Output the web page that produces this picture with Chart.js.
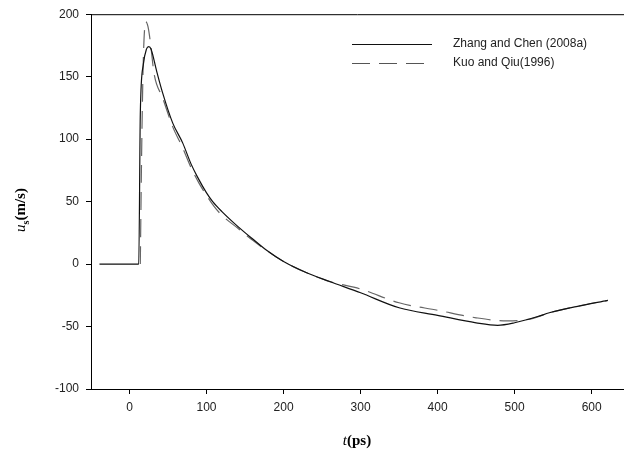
<!DOCTYPE html>
<html>
<head>
<meta charset="utf-8">
<script src="https://cdn.jsdelivr.net/npm/chart.js@4.4.1/dist/chart.umd.min.js"></script>
<style>
  html, body { margin: 0; padding: 0; background: #fff; }
  #wrap { width: 624px; height: 457px; }
</style>
</head>
<body>
<div id="wrap"><canvas id="chart" width="624" height="457"></canvas></div>
<script>
// Zhang and Chen (2008a), solid line
const zhangT = [-39, 10, 12, 14, 18, 22, 25, 28, 35, 43, 56, 69, 80, 88, 100, 108, 120, 139, 160, 178, 200, 230, 260, 300, 350, 400, 450, 478, 500, 530, 545, 580, 621];
const zhangU = [0, 0, 0, 120, 160, 172, 174, 172, 155, 137, 113, 97, 80, 70, 57, 50, 42, 31, 20, 11, 2, -7, -14, -23, -35, -41, -47, -49, -47, -42, -39, -34, -29];

// Kuo and Qiu (1996), dashed line
const kuoT = [14, 16, 18, 21, 24, 27, 32, 43, 56, 69, 80, 90, 100, 110, 120, 140, 160, 180, 200, 230, 260, 300, 350, 400, 450, 490, 520, 545, 580, 621];
const kuoU = [0, 100, 165, 194, 190, 178, 152, 133, 110, 93, 77, 65, 55, 46, 39, 29, 19, 10, 2, -7, -14, -20, -31, -37, -43, -45.5, -44, -39, -34, -29];

const xTicks = [0, 100, 200, 300, 400, 500, 600];
const yTicks = [-100, -50, 0, 50, 100, 150, 200];

const seriesNames = ['Zhang and Chen (2008a)', 'Kuo and Qiu(1996)'];

function toPoints(ts, us) {
  return ts.map((t, i) => ({ x: t, y: us[i] }));
}

const tickFont = { family: 'Arial, "Liberation Sans", sans-serif', size: 12 };

// frame on top, legend and the axis titles with italics / subscript
const extras = {
  id: 'extras',
  afterDraw(chart) {
    const ctx = chart.ctx;
    const area = chart.chartArea;
    ctx.save();
    ctx.strokeStyle = '#000';
    ctx.lineWidth = 1;
    ctx.beginPath();
    ctx.moveTo(area.left, area.top + 0.5);
    ctx.lineTo(area.right, area.top + 0.5);
    ctx.stroke();

    // legend
    const rows = [
      { y: 44, dash: [], color: '#111' },
      { y: 63, dash: [18, 9], color: '#555' }
    ];
    rows.forEach((r, i) => {
      ctx.setLineDash(r.dash);
      ctx.strokeStyle = r.color;
      ctx.beginPath();
      ctx.moveTo(352, r.y + 0.5);
      ctx.lineTo(432, r.y + 0.5);
      ctx.stroke();
      ctx.setLineDash([]);
      ctx.fillStyle = '#222';
      ctx.font = '12px Arial, "Liberation Sans", sans-serif';
      ctx.textBaseline = 'middle';
      ctx.textAlign = 'left';
      ctx.fillText(seriesNames[i], 453, r.y);
    });

    // x title: t(ps)
    ctx.fillStyle = '#000';
    ctx.textBaseline = 'alphabetic';
    const xt1 = 't', xt2 = '(ps)';
    ctx.font = 'italic 15px "Liberation Serif", "Times New Roman", serif';
    const w1 = ctx.measureText(xt1).width;
    ctx.font = 'bold 15px "Liberation Serif", "Times New Roman", serif';
    const w2 = ctx.measureText(xt2).width;
    let sx = 357 - (w1 + w2) / 2;
    ctx.font = 'italic 15px "Liberation Serif", "Times New Roman", serif';
    ctx.fillText(xt1, sx, 445);
    ctx.font = 'bold 15px "Liberation Serif", "Times New Roman", serif';
    ctx.fillText(xt2, sx + w1, 445);

    // y title: u_s(m/s), rotated
    ctx.translate(25, 210);
    ctx.rotate(-Math.PI / 2);
    ctx.font = 'italic 15px "Liberation Serif", "Times New Roman", serif';
    const a = ctx.measureText('u').width;
    ctx.font = 'bold 10px "Liberation Serif", "Times New Roman", serif';
    const b = ctx.measureText('s').width;
    ctx.font = 'bold 15px "Liberation Serif", "Times New Roman", serif';
    const c = ctx.measureText('(m/s)').width;
    let yx = -(a + b + c) / 2;
    ctx.font = 'italic 15px "Liberation Serif", "Times New Roman", serif';
    ctx.fillText('u', yx, 0);
    ctx.font = 'bold 10px "Liberation Serif", "Times New Roman", serif';
    ctx.fillText('s', yx + a, 4);
    ctx.font = 'bold 15px "Liberation Serif", "Times New Roman", serif';
    ctx.fillText('(m/s)', yx + a + b, 0);
    ctx.restore();
  }
};

new Chart(document.getElementById('chart'), {
  type: 'line',
  data: {
    datasets: [{
      label: seriesNames[0],
      data: toPoints(zhangT, zhangU),
      borderColor: '#111',
      borderWidth: 1.2,
      pointRadius: 0,
      fill: false,
      cubicInterpolationMode: 'monotone'
    }, {
      label: seriesNames[1],
      data: toPoints(kuoT, kuoU),
      borderColor: '#666',
      borderWidth: 1.2,
      borderDash: [18, 9],
      pointRadius: 0,
      fill: false,
      cubicInterpolationMode: 'monotone'
    }]
  },
  options: {
    responsive: false,
    animation: false,
    layout: { padding: { top: 11, right: 0, left: 0, bottom: 0 } },
    plugins: {
      legend: { display: false },
      title: { display: false },
      tooltip: { enabled: false }
    },
    scales: {
      x: {
        type: 'linear',
        min: -50,
        max: 642,
        afterBuildTicks: s => { s.ticks = xTicks.map(v => ({ value: v })); },
        afterFit: s => { s.height = 68; },
        grid: { drawOnChartArea: false, tickLength: 5, tickColor: '#000' },
        border: { color: '#000', width: 1 },
        ticks: { color: '#222', font: tickFont, padding: 6, maxRotation: 0 }
      },
      y: {
        min: -100,
        max: 200,
        afterBuildTicks: s => { s.ticks = yTicks.map(v => ({ value: v })); },
        afterFit: s => { s.width = 91; },
        grid: { drawOnChartArea: false, tickLength: 5, tickColor: '#000' },
        border: { color: '#000', width: 1 },
        ticks: { color: '#222', font: tickFont, padding: 7 }
      }
    }
  },
  plugins: [extras]
});
</script>
</body>
</html>
